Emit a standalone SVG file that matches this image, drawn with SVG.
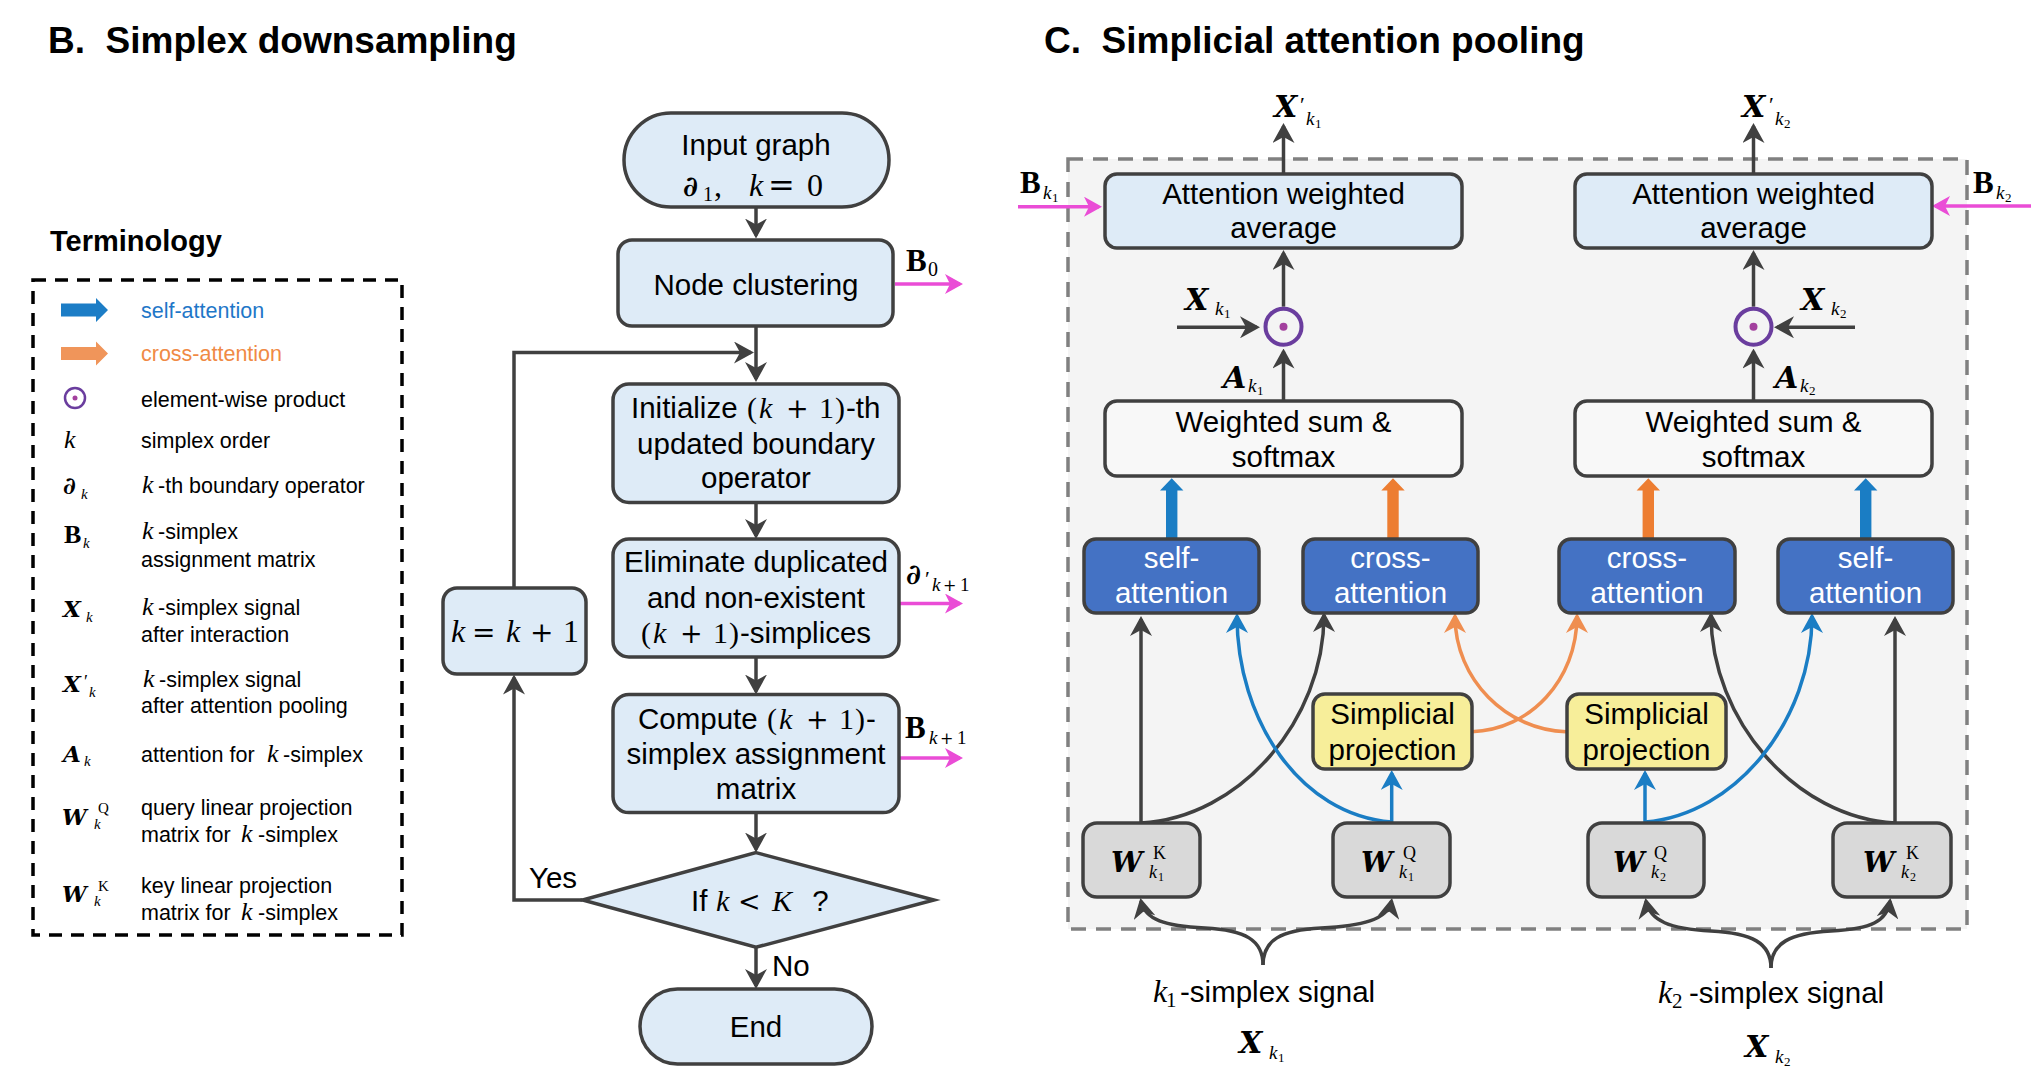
<svg xmlns="http://www.w3.org/2000/svg" width="2031" height="1081" viewBox="0 0 2031 1081">
<defs>
<style>
.s{font-family:"Liberation Sans",Arial,sans-serif;fill:#000}
.bx{font-size:29.5px}
.lg{font-size:21.5px}
.ttl{font-size:37px;font-weight:bold}
.m{font-family:"Liberation Serif","Times New Roman",serif}
.mm{font-family:"Liberation Serif","Times New Roman",serif;font-size:30px}
.op{font-family:"DejaVu Serif",serif;font-style:normal;font-weight:normal}
.i{font-style:italic}
.bi{font-family:"DejaVu Serif",serif;font-style:italic;font-weight:bold}
.b{font-weight:bold}
.w{fill:#fff}
.fb{fill:#DEEBF7;stroke:#404040;stroke-width:3.5}
.fw{fill:#F8F8F8;stroke:#404040;stroke-width:3.5}
.fa{fill:#4472C4;stroke:#404040;stroke-width:3.5}
.fy{fill:#F7EE9A;stroke:#404040;stroke-width:3.5}
.fg{fill:#D9D9D9;stroke:#404040;stroke-width:3.5}
.ln{fill:none;stroke:#404040;stroke-width:3.5}
.lb{fill:none;stroke:#1A7DC4;stroke-width:3.5}
.lo{fill:none;stroke:#EF8E50;stroke-width:3.5}
.pk{fill:none;stroke:#EA4CD6;stroke-width:3.5}
</style>
<marker id="ad" viewBox="0 0 20 22" refX="17" refY="11" markerWidth="20" markerHeight="22" markerUnits="userSpaceOnUse" orient="auto"><path d="M0,0 L20,11 L0,22 L6,11 Z" fill="#404040"/></marker>
<marker id="ab" viewBox="0 0 20 22" refX="17" refY="11" markerWidth="20" markerHeight="22" markerUnits="userSpaceOnUse" orient="auto"><path d="M0,0 L20,11 L0,22 L6,11 Z" fill="#1A7DC4"/></marker>
<marker id="ao" viewBox="0 0 20 22" refX="17" refY="11" markerWidth="20" markerHeight="22" markerUnits="userSpaceOnUse" orient="auto"><path d="M0,0 L20,11 L0,22 L6,11 Z" fill="#EF8E50"/></marker>
<marker id="ap" viewBox="0 0 18 20" refX="15" refY="10" markerWidth="18" markerHeight="20" markerUnits="userSpaceOnUse" orient="auto"><path d="M0,0 L18,10 L0,20 L5,10 Z" fill="#EA4CD6"/></marker>
</defs>
<rect width="2031" height="1081" fill="#fff"/>

<!-- Titles -->
<text class="s ttl" x="48" y="53">B.&#160; Simplex downsampling</text>
<text class="s ttl" x="1044" y="53">C.&#160; Simplicial attention pooling</text>

<!-- Legend -->
<g id="legend">
<text class="s b" font-size="29" x="50" y="251">Terminology</text>
<rect x="33" y="280" width="369" height="655" fill="none" stroke="#000" stroke-width="3.5" stroke-dasharray="13 9"/>
<polygon points="61,303.5 96,303.5 96,298 108,310 96,322 96,316.5 61,316.5" fill="#1C7DC6"/>
<text class="s lg" x="141" y="318" style="fill:#1F77C8">self-attention</text>
<polygon points="61,347 96,347 96,341.5 108,353.5 96,365.5 96,360 61,360" fill="#F0955A"/>
<text class="s lg" x="141" y="361" style="fill:#F08A45">cross-attention</text>
<circle cx="75" cy="398" r="10" fill="#fff" stroke="#6A3D9E" stroke-width="2.5"/>
<circle cx="75" cy="398" r="2.5" fill="#A3409E"/>
<text class="s lg" x="141" y="407">element-wise product</text>
<text class="m i" font-size="26" x="64" y="448">k</text>
<text class="s lg" x="141" y="448">simplex order</text>
<text class="m" y="494"><tspan class="bi" font-size="24" x="63">∂</tspan><tspan class="i" font-size="15" x="81" y="499">k</tspan></text>
<text class="s lg" y="493"><tspan class="m i" font-size="26" x="142">k</tspan><tspan x="158">-th boundary operator</tspan></text>
<text class="m" y="543"><tspan class="b" font-size="26" x="64">B</tspan><tspan class="i" font-size="15" x="83" y="548">k</tspan></text>
<text class="s lg" y="539"><tspan class="m i" font-size="26" x="142">k</tspan><tspan x="158">-simplex</tspan></text>
<text class="s lg" x="141" y="567">assignment matrix</text>
<text class="m" y="617"><tspan class="bi" font-size="23" x="63">X</tspan><tspan class="i" font-size="15" x="86" y="622">k</tspan></text>
<text class="s lg" y="615"><tspan class="m i" font-size="26" x="142">k</tspan><tspan x="158">-simplex signal</tspan></text>
<text class="s lg" x="141" y="642">after interaction</text>
<text class="m" y="692"><tspan class="bi" font-size="23" x="63">X</tspan><tspan font-size="18" x="84" y="688">′</tspan><tspan class="i" font-size="15" x="89" y="697">k</tspan></text>
<text class="s lg" y="687"><tspan class="m i" font-size="26" x="143">k</tspan><tspan x="159">-simplex signal</tspan></text>
<text class="s lg" x="141" y="713">after attention pooling</text>
<text class="m" y="762"><tspan class="bi" font-size="23" x="63">A</tspan><tspan class="i" font-size="15" x="84" y="766">k</tspan></text>
<text class="s lg" y="762"><tspan x="141">attention for </tspan><tspan class="m i" font-size="26" x="267">k</tspan><tspan x="283">-simplex</tspan></text>
<text class="m" y="825"><tspan class="bi" font-size="22" x="62">W</tspan><tspan font-size="15" x="98" y="813">Q</tspan><tspan class="i" font-size="15" x="94" y="829">k</tspan></text>
<text class="s lg" x="141" y="815">query linear projection</text>
<text class="s lg" y="842"><tspan x="141">matrix for </tspan><tspan class="m i" font-size="26" x="241">k</tspan><tspan x="258">-simplex</tspan></text>
<text class="m" y="902"><tspan class="bi" font-size="22" x="62">W</tspan><tspan font-size="15" x="98" y="891">K</tspan><tspan class="i" font-size="15" x="94" y="906">k</tspan></text>
<text class="s lg" x="141" y="893">key linear projection</text>
<text class="s lg" y="920"><tspan x="141">matrix for </tspan><tspan class="m i" font-size="26" x="241">k</tspan><tspan x="258">-simplex</tspan></text>
</g>

<!-- Panel C background -->
<rect id="panelC-bg" x="1068" y="159" width="899" height="770" fill="#F4F4F4" stroke="#808080" stroke-width="3.5" stroke-dasharray="15 10"/>

<!-- Connectors -->
<g id="connectors">
<path class="ln" d="M756,207 V235.5" marker-end="url(#ad)"/>
<path class="ln" d="M756,326 V379" marker-end="url(#ad)"/>
<path class="ln" d="M514,588 V352.5 H751" marker-end="url(#ad)"/>
<path class="ln" d="M756,502.5 V536" marker-end="url(#ad)"/>
<path class="ln" d="M756,657 V691.5" marker-end="url(#ad)"/>
<path class="ln" d="M756,812.6 V849.5" marker-end="url(#ad)"/>
<path class="ln" d="M582.5,900 H514 V677.5" marker-end="url(#ad)"/>
<path class="ln" d="M756,947.3 V986" marker-end="url(#ad)"/>
<path class="pk" d="M895,284 H960" marker-end="url(#ap)"/>
<path class="pk" d="M900,603.5 H960" marker-end="url(#ap)"/>
<path class="pk" d="M900,758 H960" marker-end="url(#ap)"/>
<path class="ln" d="M1283.5,174 V126" marker-end="url(#ad)"/>
<path class="ln" d="M1283.5,306.7 V253" marker-end="url(#ad)"/>
<path class="ln" d="M1283.5,401 V351.5" marker-end="url(#ad)"/>
<path class="ln" d="M1177,327.3 H1257" marker-end="url(#ad)"/>
<path class="ln" d="M1753.5,174 V126" marker-end="url(#ad)"/>
<path class="ln" d="M1753.5,306.7 V253" marker-end="url(#ad)"/>
<path class="ln" d="M1753.5,401 V351.5" marker-end="url(#ad)"/>
<path class="ln" d="M1855,327.3 H1777" marker-end="url(#ad)"/>
<path class="pk" d="M1018,206.7 H1099" marker-end="url(#ap)"/>
<path class="pk" d="M2031,206 H1935" marker-end="url(#ap)"/>
<polygon points="1166,539 1166,490.5 1160,490.5 1171.7,478.3 1183.4,490.5 1177.4,490.5 1177.4,539" fill="#1A7DC4"/>
<polygon points="1387.3,539 1387.3,490.5 1381.3,490.5 1393,478.3 1404.7,490.5 1398.7,490.5 1398.7,539" fill="#ED7D31"/>
<polygon points="1642.6,539 1642.6,490.5 1636.6,490.5 1648.3,478.3 1660,490.5 1654,490.5 1654,539" fill="#ED7D31"/>
<polygon points="1860,539 1860,490.5 1854,490.5 1865.7,478.3 1877.4,490.5 1871.4,490.5 1871.4,539" fill="#1A7DC4"/>
<path class="ln" d="M1141,823 V619" marker-end="url(#ad)"/>
<path class="ln" d="M1141,823 C1240,818 1324,720 1324,615" marker-end="url(#ad)"/>
<path class="lb" d="M1391.7,822 C1300,815 1237,720 1237,616" marker-end="url(#ab)"/>
<path class="lb" d="M1391.7,822 V773" marker-end="url(#ab)"/>
<path class="lo" d="M1471.7,731.7 C1530,730 1577,680 1577,616" marker-end="url(#ao)"/>
<path class="lo" d="M1566,731.7 C1507,730 1455,680 1455,616" marker-end="url(#ao)"/>
<path class="ln" d="M1895,823 V619" marker-end="url(#ad)"/>
<path class="ln" d="M1895,823 C1796,818 1711,720 1711,615" marker-end="url(#ad)"/>
<path class="lb" d="M1645,822 C1736,815 1812,720 1812,616" marker-end="url(#ab)"/>
<path class="lb" d="M1645,822 V773" marker-end="url(#ab)"/>
<path class="ln" d="M1263,965 C1263,940 1245,930 1205,928 C1165,926 1145,920 1141,901" marker-end="url(#ad)"/>
<path class="ln" d="M1263,965 C1263,940 1281,930 1321,928 C1361,926 1388,920 1391.5,901" marker-end="url(#ad)"/>
<path class="ln" d="M1771,968 C1771,943 1752,933 1711,931 C1670,929 1650,921 1646,901" marker-end="url(#ad)"/>
<path class="ln" d="M1771,968 C1771,943 1790,933 1831,931 C1872,929 1887,921 1890,901" marker-end="url(#ad)"/>
</g>

<!-- Flowchart nodes -->
<g id="n-input">
<rect x="624" y="113" width="265" height="94" rx="47" class="fb"/>
<text class="s bx" x="756" y="155" text-anchor="middle">Input graph</text>
<text class="m" font-size="32" y="196"><tspan class="bi" font-size="28" x="683">∂</tspan><tspan font-size="20" x="703" y="201">1</tspan><tspan x="714" y="196">,</tspan><tspan class="i" x="749">k</tspan><tspan class="op" font-size="32" x="768">=</tspan><tspan x="807">0</tspan></text>
</g>
<g id="n-cluster">
<rect x="618" y="240" width="275" height="86" rx="14" class="fb"/>
<text class="s bx" x="756" y="295" text-anchor="middle">Node clustering</text>
</g>
<g id="n-init">
<rect x="613" y="384" width="286" height="118.5" rx="16" class="fb"/>
<text class="s bx" y="418"><tspan x="631">Initialize </tspan><tspan class="mm" x="747">(</tspan><tspan class="mm i" x="759">k</tspan><tspan class="op" font-size="27" x="786">+</tspan><tspan class="mm" x="819">1</tspan><tspan class="mm" x="835">)</tspan><tspan x="846">-th</tspan></text>
<text class="s bx" x="756" y="453.5" text-anchor="middle">updated boundary</text>
<text class="s bx" x="756" y="487.5" text-anchor="middle">operator</text>
</g>
<g id="n-elim">
<rect x="613" y="539" width="286" height="118" rx="16" class="fb"/>
<text class="s bx" x="756" y="572" text-anchor="middle">Eliminate duplicated</text>
<text class="s bx" x="756" y="608" text-anchor="middle">and non-existent</text>
<text class="s bx" y="643"><tspan class="mm" x="641">(</tspan><tspan class="mm i" x="653">k</tspan><tspan class="op" font-size="27" x="680">+</tspan><tspan class="mm" x="713">1</tspan><tspan class="mm" x="729">)</tspan><tspan x="740">-simplices</tspan></text>
</g>
<g id="n-compute">
<rect x="613" y="694.6" width="286" height="118" rx="16" class="fb"/>
<text class="s bx" y="729"><tspan x="638">Compute </tspan><tspan class="mm" x="767">(</tspan><tspan class="mm i" x="779">k</tspan><tspan class="op" font-size="27" x="806">+</tspan><tspan class="mm" x="839">1</tspan><tspan class="mm" x="855">)</tspan><tspan x="866">-</tspan></text>
<text class="s bx" x="756" y="764" text-anchor="middle">simplex assignment</text>
<text class="s bx" x="756" y="799" text-anchor="middle">matrix</text>
</g>
<g id="n-decision">
<polygon points="756,852.6 934,900 756,947.3 582.5,900" class="fb"/>
<text class="s bx" y="910.7"><tspan x="691">If </tspan><tspan class="mm i" x="716">k</tspan><tspan class="op" font-size="27" x="738">&lt;</tspan><tspan class="mm i" x="772">K</tspan><tspan x="804"> ?</tspan></text>
</g>
<g id="n-inc">
<rect x="443" y="588" width="143" height="86" rx="14" class="fb"/>
<text class="m" font-size="32" y="641.5"><tspan class="i" x="451">k</tspan><tspan class="op" font-size="28" x="472">=</tspan><tspan class="i" x="506">k</tspan><tspan class="op" font-size="28" x="530">+</tspan><tspan x="563">1</tspan></text>
</g>
<g id="n-end">
<rect x="640" y="989" width="232" height="75" rx="37.5" class="fb"/>
<text class="s bx" x="756" y="1037" text-anchor="middle">End</text>
</g>
<g id="flow-labels">
<text class="s bx" x="529" y="887.5">Yes</text>
<text class="s bx" x="772" y="976">No</text>
<text class="m" y="271"><tspan class="b" font-size="31" x="906">B</tspan><tspan font-size="20" x="928" y="276">0</tspan></text>
<text class="m" y="584"><tspan class="bi" font-size="28" x="906">∂</tspan><tspan font-size="22" x="925" y="586">′</tspan><tspan class="i" font-size="19" x="932" y="591">k</tspan><tspan class="op" font-size="16" x="943" y="591">+</tspan><tspan font-size="19" x="960" y="591">1</tspan></text>
<text class="m" y="738"><tspan class="b" font-size="31" x="905">B</tspan><tspan class="i" font-size="19" x="929" y="744">k</tspan><tspan class="op" font-size="16" x="940" y="744">+</tspan><tspan font-size="19" x="957" y="744">1</tspan></text>
</g>

<!-- Panel C nodes -->
<g id="c-awa1">
<rect x="1105" y="174" width="357" height="74" rx="12" class="fb"/>
<text class="s bx" x="1283.5" y="204" text-anchor="middle">Attention weighted</text>
<text class="s bx" x="1283.5" y="238" text-anchor="middle">average</text>
</g>
<g id="c-awa2">
<rect x="1575" y="174" width="357" height="74" rx="12" class="fb"/>
<text class="s bx" x="1753.5" y="204" text-anchor="middle">Attention weighted</text>
<text class="s bx" x="1753.5" y="238" text-anchor="middle">average</text>
</g>
<g id="c-prod1">
<circle cx="1283.5" cy="326.7" r="18" fill="#F4F4F4" stroke="#6A3D9E" stroke-width="4"/>
<circle cx="1283.5" cy="326.7" r="4" fill="#A3409E"/>
</g>
<g id="c-prod2">
<circle cx="1753.5" cy="326.7" r="18" fill="#F4F4F4" stroke="#6A3D9E" stroke-width="4"/>
<circle cx="1753.5" cy="326.7" r="4" fill="#A3409E"/>
</g>
<g id="c-wss1">
<rect x="1105" y="401" width="357" height="75" rx="12" class="fw"/>
<text class="s bx" x="1283.5" y="431.7" text-anchor="middle">Weighted sum &amp;</text>
<text class="s bx" x="1283.5" y="467" text-anchor="middle">softmax</text>
</g>
<g id="c-wss2">
<rect x="1575" y="401" width="357" height="75" rx="12" class="fw"/>
<text class="s bx" x="1753.5" y="431.7" text-anchor="middle">Weighted sum &amp;</text>
<text class="s bx" x="1753.5" y="467" text-anchor="middle">softmax</text>
</g>
<g id="c-self1">
<rect x="1084" y="539" width="175" height="74" rx="12" class="fa"/>
<text class="s bx w" x="1171.5" y="568" text-anchor="middle">self-</text>
<text class="s bx w" x="1171.5" y="603" text-anchor="middle">attention</text>
</g>
<g id="c-cross1">
<rect x="1303" y="539" width="175" height="74" rx="12" class="fa"/>
<text class="s bx w" x="1390.5" y="568" text-anchor="middle">cross-</text>
<text class="s bx w" x="1390.5" y="603" text-anchor="middle">attention</text>
</g>
<g id="c-cross2">
<rect x="1559" y="539" width="176" height="74" rx="12" class="fa"/>
<text class="s bx w" x="1647" y="568" text-anchor="middle">cross-</text>
<text class="s bx w" x="1647" y="603" text-anchor="middle">attention</text>
</g>
<g id="c-self2">
<rect x="1778" y="539" width="175" height="74" rx="12" class="fa"/>
<text class="s bx w" x="1865.5" y="568" text-anchor="middle">self-</text>
<text class="s bx w" x="1865.5" y="603" text-anchor="middle">attention</text>
</g>
<g id="c-sp1">
<rect x="1313" y="694" width="159" height="75" rx="12" class="fy"/>
<text class="s bx" x="1392.5" y="724" text-anchor="middle">Simplicial</text>
<text class="s bx" x="1392.5" y="760" text-anchor="middle">projection</text>
</g>
<g id="c-sp2">
<rect x="1567" y="694" width="159" height="75" rx="12" class="fy"/>
<text class="s bx" x="1646.5" y="724" text-anchor="middle">Simplicial</text>
<text class="s bx" x="1646.5" y="760" text-anchor="middle">projection</text>
</g>
<g id="c-wk1">
<rect x="1083" y="823" width="117" height="74" rx="14" class="fg"/>
<text class="m" y="872"><tspan class="bi" font-size="28" x="1111">W</tspan><tspan font-size="18" x="1153" y="859">K</tspan><tspan class="i" font-size="18" x="1149" y="878">k</tspan><tspan font-size="12" x="1158" y="881">1</tspan></text>
</g>
<g id="c-wq1">
<rect x="1333" y="823" width="117" height="74" rx="14" class="fg"/>
<text class="m" y="872"><tspan class="bi" font-size="28" x="1361">W</tspan><tspan font-size="18" x="1403" y="859">Q</tspan><tspan class="i" font-size="18" x="1399" y="878">k</tspan><tspan font-size="12" x="1408" y="881">1</tspan></text>
</g>
<g id="c-wq2">
<rect x="1588" y="823" width="116" height="74" rx="14" class="fg"/>
<text class="m" y="872"><tspan class="bi" font-size="28" x="1613">W</tspan><tspan font-size="18" x="1654" y="859">Q</tspan><tspan class="i" font-size="18" x="1651" y="878">k</tspan><tspan font-size="12" x="1660" y="881">2</tspan></text>
</g>
<g id="c-wk2">
<rect x="1833" y="823" width="118" height="74" rx="14" class="fg"/>
<text class="m" y="872"><tspan class="bi" font-size="28" x="1863">W</tspan><tspan font-size="18" x="1906" y="859">K</tspan><tspan class="i" font-size="18" x="1901" y="878">k</tspan><tspan font-size="12" x="1910" y="881">2</tspan></text>
</g>

<!-- Panel C labels -->
<g id="c-labels">
<text class="m" y="117"><tspan class="bi" font-size="30" x="1274">X</tspan><tspan font-size="22" x="1300" y="112">′</tspan><tspan class="i" font-size="19" x="1306" y="125">k</tspan><tspan font-size="13" x="1315" y="128">1</tspan></text>
<text class="m" y="117"><tspan class="bi" font-size="30" x="1742">X</tspan><tspan font-size="22" x="1769" y="112">′</tspan><tspan class="i" font-size="19" x="1775" y="125">k</tspan><tspan font-size="13" x="1784" y="128">2</tspan></text>
<text class="m" y="193"><tspan class="b" font-size="31" x="1020">B</tspan><tspan class="i" font-size="19" x="1043" y="199">k</tspan><tspan font-size="13" x="1052" y="202">1</tspan></text>
<text class="m" y="193"><tspan class="b" font-size="31" x="1973">B</tspan><tspan class="i" font-size="19" x="1996" y="199">k</tspan><tspan font-size="13" x="2005" y="202">2</tspan></text>
<text class="m" y="310"><tspan class="bi" font-size="30" x="1185">X</tspan><tspan class="i" font-size="19" x="1215" y="315">k</tspan><tspan font-size="13" x="1224" y="318">1</tspan></text>
<text class="m" y="310"><tspan class="bi" font-size="30" x="1801">X</tspan><tspan class="i" font-size="19" x="1831" y="315">k</tspan><tspan font-size="13" x="1840" y="318">2</tspan></text>
<text class="m" y="388"><tspan class="bi" font-size="30" x="1223">A</tspan><tspan class="i" font-size="19" x="1248" y="392">k</tspan><tspan font-size="13" x="1257" y="395">1</tspan></text>
<text class="m" y="388"><tspan class="bi" font-size="30" x="1775">A</tspan><tspan class="i" font-size="19" x="1800" y="392">k</tspan><tspan font-size="13" x="1809" y="395">2</tspan></text>
<text class="s bx" y="1002"><tspan class="m i" font-size="32" x="1153">k</tspan><tspan class="m" font-size="21" x="1166" y="1007">1</tspan><tspan x="1180" y="1002">-simplex signal</tspan></text>
<text class="s bx" y="1003"><tspan class="m i" font-size="32" x="1658">k</tspan><tspan class="m" font-size="21" x="1672" y="1008">2</tspan><tspan x="1689" y="1003">-simplex signal</tspan></text>
<text class="m" y="1053"><tspan class="bi" font-size="30" x="1239">X</tspan><tspan class="i" font-size="19" x="1269" y="1059">k</tspan><tspan font-size="13" x="1278" y="1062">1</tspan></text>
<text class="m" y="1057"><tspan class="bi" font-size="30" x="1745">X</tspan><tspan class="i" font-size="19" x="1775" y="1063">k</tspan><tspan font-size="13" x="1784" y="1066">2</tspan></text>
</g>
</svg>
